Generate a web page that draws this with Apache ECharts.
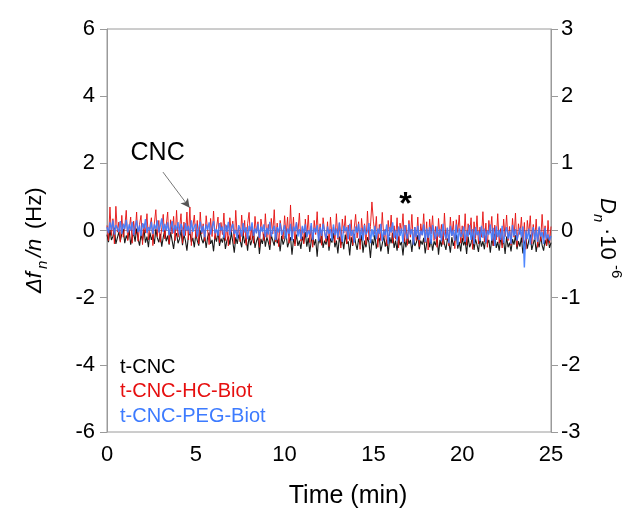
<!DOCTYPE html>
<html>
<head>
<meta charset="utf-8">
<script src="https://cdn.jsdelivr.net/npm/echarts@6/dist/echarts.min.js"></script>
<style>html,body{margin:0;padding:0;background:#fff}#c{width:638px;height:516px}</style>
</head>
<body>
<div id="c"></div>
<script>
const seriesNames = ['t-CNC', 't-CNC-HC-Biot', 't-CNC-PEG-Biot'];
const xTicks = [0, 5, 10, 15, 20, 25];
const leftTicks = [-6, -4, -2, 0, 2, 4, 6];
const rightTicks = [-3, -2, -1, 0, 1, 2, 3];
const timeStep = 1 / 12; // min between samples

const tCNC = [
-0.12,-0.35,0.02,-0.28,-0.18,0.08,-0.4,-0.22,-0.05,-0.32,-0.1,0.05,-0.38,-0.15,-0.27,
0.0,-0.42,-0.2,-0.08,-0.33,0.06,-0.25,-0.45,-0.12,-0.3,0.03,-0.36,-0.18,-0.5,-0.06,
-0.28,-0.14,-0.4,0.04,-0.22,-0.35,-0.1,-0.48,-0.2,0.0,-0.32,-0.15,-0.42,-0.05,-0.3,
-0.55,-0.18,-0.08,-0.38,-0.25,0.02,-0.44,-0.12,-0.3,-0.6,-0.16,-0.04,-0.35,-0.22,-0.5,
-0.1,-0.3,-0.45,0.0,-0.26,-0.38,-0.14,-0.52,-0.2,-0.06,-0.4,-0.28,-0.62,-0.15,-0.33,
-0.02,-0.46,-0.24,-0.36,-0.1,-0.55,-0.3,-0.18,-0.42,-0.05,-0.34,-0.66,-0.2,-0.4,-0.12,
-0.3,-0.5,-0.08,-0.38,-0.22,-0.6,-0.15,-0.44,-0.28,-0.04,-0.52,-0.32,-0.18,-0.7,-0.25,
-0.4,-0.1,-0.48,-0.2,-0.35,-0.58,-0.14,-0.3,-0.45,-0.06,-0.38,-0.24,-0.62,-0.16,-0.42,
-0.28,-0.08,-0.5,-0.34,-0.2,-0.72,-0.26,-0.4,-0.12,-0.46,-0.3,-0.55,-0.18,-0.36,-0.05,
-0.48,-0.22,-0.64,-0.32,-0.14,-0.44,-0.26,-0.78,-0.2,-0.38,-0.1,-0.52,-0.3,-0.42,-0.16,
-0.6,-0.24,-0.36,-0.08,-0.5,-0.3,-0.68,-0.18,-0.44,-0.26,-0.56,-0.12,-0.4,-0.32,-0.74,
-0.2,-0.46,-0.1,-0.38,-0.58,-0.24,-0.42,-0.14,-0.66,-0.3,-0.5,-0.2,-0.36,-0.82,-0.26,
-0.44,-0.12,-0.54,-0.32,-0.22,-0.62,-0.4,-0.16,-0.48,-0.28,-0.7,-0.2,-0.38,-0.08,-0.52,
-0.3,-0.6,-0.18,-0.44,-0.34,-0.74,-0.24,-0.5,-0.12,-0.4,-0.28,-0.64,-0.2,-0.46,-0.36,
-0.14,-0.56,-0.3,-0.42,-0.22,-0.68,-0.38,-0.1,-0.5,-0.26,-0.6,-0.32,-0.44,-0.18,-0.72,
-0.28,-0.48,-0.16,-0.4,-0.58,-0.24,-0.36,-0.66,-0.2,-0.46,-0.3,-0.12,-0.54,-0.34,-0.62,
-0.22,-0.44,-0.3,-0.7,-0.18,-0.5,-0.38,-0.14,-0.58,-0.26,-0.42,-0.64,-0.2,-0.48,-0.32,
-0.56,-0.16,-0.4,-0.28,-0.66,-0.24,-0.46,-0.1,-0.52,-0.34,-0.6,-0.22,-0.44,-0.3,-0.7,
-0.18,-0.5,-0.36,-0.62,-0.26,-0.42,-0.14,-0.56,-0.32,-0.48,-0.2,-0.68,-0.38,-0.24,-0.54,
-0.3,-0.12,-0.58,-0.4,-0.22,-0.64,-0.34,-0.5,-0.16,-0.44,-0.6,-0.28,-0.46,-0.2,-0.52,
-0.36];

const tCNCHCBiot = [
0.15,-0.3,0.7,-0.15,0.35,-0.4,0.72,-0.05,0.25,-0.35,0.45,-0.2,0.1,0.6,-0.3,
0.05,0.4,-0.38,0.28,-0.12,0.55,-0.32,0.18,0.45,-0.42,0.2,-0.08,0.5,-0.28,0.12,
0.38,-0.45,0.22,0.62,-0.18,0.3,-0.35,0.08,0.48,-0.25,0.15,0.55,-0.4,0.32,-0.1,
0.42,-0.3,0.6,-0.2,0.05,0.5,-0.38,0.25,-0.15,0.55,-0.28,0.7,-0.45,0.12,0.46,
-0.22,0.3,-0.4,0.55,-0.1,0.2,-0.32,0.44,0.0,-0.42,0.36,-0.18,0.58,-0.26,0.1,
0.4,-0.36,0.24,-0.12,0.52,-0.3,0.15,-0.46,0.38,-0.05,0.28,-0.4,0.6,-0.2,0.08,
-0.34,0.46,-0.16,0.3,-0.44,0.2,0.54,-0.28,0.12,-0.38,0.42,-0.08,0.26,-0.5,0.34,
0.05,-0.3,0.5,-0.2,0.18,-0.42,0.36,-0.1,0.62,-0.34,0.22,-0.48,0.3,0.0,-0.26,
0.44,-0.14,0.4,-0.38,0.76,-0.28,0.4,-0.46,0.24,-0.06,0.52,-0.32,0.1,-0.4,0.34,
-0.2,0.46,-0.36,0.14,-0.5,0.3,-0.12,0.56,-0.3,0.2,-0.44,0.38,-0.02,-0.34,0.26,
-0.48,0.4,-0.18,0.1,-0.36,0.5,-0.26,0.22,-0.52,0.34,-0.08,0.44,-0.4,0.16,-0.3,
0.32,-0.44,0.06,0.48,-0.22,0.26,-0.56,0.36,-0.14,0.2,-0.42,0.58,-0.28,0.12,0.85,
0.28,-0.1,0.42,-0.5,0.18,-0.3,0.54,-0.2,0.04,-0.46,0.3,-0.16,0.46,-0.38,0.14,
-0.26,0.38,-0.52,0.22,-0.06,0.5,-0.34,0.16,-0.44,0.3,-0.2,0.48,-0.4,0.1,-0.3,
0.4,-0.48,0.2,-0.14,0.5,-0.36,0.26,-0.58,0.34,-0.1,0.44,-0.3,0.12,-0.5,0.36,
-0.22,0.18,-0.42,0.52,-0.28,0.08,-0.46,0.4,-0.16,0.28,-0.54,0.32,-0.06,0.46,-0.38,
0.14,-0.3,0.5,-0.44,0.2,-0.12,0.38,-0.56,0.26,-0.24,0.44,-0.4,0.1,-0.2,0.56,
-0.34,0.22,-0.5,0.3,-0.08,0.42,-0.46,0.16,-0.28,0.5,-0.38,0.06,-0.52,0.34,-0.18,
0.46,-0.3,0.12,-0.44,0.36,-0.2,0.52,-0.48,0.2,-0.12,0.4,-0.36,0.24,-0.56,0.3,
-0.1,0.44,-0.4,0.18,-0.26,0.34,-0.5,0.08,-0.32,0.48,-0.22,0.14,-0.46,0.3,-0.38,
0.12];

const tCNCPEGBiot = [
0.1,-0.08,0.24,0.02,0.3,-0.12,0.16,0.06,-0.04,0.28,-0.1,0.2,0.04,0.32,-0.06,
0.18,0.0,0.26,-0.14,0.12,0.3,-0.05,0.15,-0.16,0.22,0.06,0.34,-0.08,0.1,0.0,
0.26,-0.1,0.18,0.04,0.3,-0.06,0.14,0.36,-0.04,0.2,0.0,0.24,-0.14,0.1,0.28,
-0.08,0.16,0.02,0.25,-0.12,0.2,0.06,-0.16,0.22,0.0,0.14,-0.1,0.3,-0.04,0.12,
0.2,-0.18,0.08,0.26,-0.06,0.14,-0.2,0.18,0.02,0.24,-0.12,0.1,0.28,-0.08,0.04,
-0.16,0.22,0.0,0.12,-0.22,0.18,-0.04,0.26,-0.14,0.08,0.2,-0.1,0.02,-0.24,0.16,
0.04,-0.18,0.22,-0.06,0.1,-0.26,0.14,0.0,0.24,-0.16,0.06,-0.08,0.2,-0.22,0.12,
-0.04,0.18,-0.2,0.08,-0.12,0.26,-0.18,0.02,0.14,-0.28,0.1,-0.06,0.22,-0.14,0.0,
0.16,-0.24,0.06,-0.1,0.2,-0.3,0.12,-0.02,0.24,-0.18,0.04,-0.26,0.14,-0.08,0.18,
-0.2,0.0,-0.12,0.22,-0.28,0.08,-0.06,0.16,-0.32,0.1,-0.16,0.2,-0.04,-0.24,0.12,
-0.1,0.04,-0.3,0.18,-0.14,0.06,-0.22,0.24,-0.08,-0.34,0.14,-0.02,0.1,-0.26,0.2,
-0.16,0.02,-0.36,0.12,-0.06,0.2,-0.24,0.08,-0.3,0.16,-0.12,-0.02,0.22,-0.38,0.04,
-0.18,0.14,-0.26,0.06,-0.1,0.2,-0.32,0.0,-0.14,0.18,-0.4,0.1,-0.06,0.24,-0.22,
0.02,-0.3,0.12,-0.16,0.06,-0.36,0.16,-0.08,-0.24,0.2,-0.12,0.04,-0.42,0.1,-0.2,
0.14,-0.28,0.0,-0.14,0.18,-0.34,0.06,-0.22,0.1,-0.4,0.16,-0.06,-0.26,0.12,-0.18,
0.04,-0.32,0.2,-0.1,-0.24,0.08,-0.38,0.14,-0.16,0.02,-0.3,0.18,-0.44,0.06,-0.2,
-0.08,0.12,-0.34,0.0,-0.18,0.16,-0.28,0.04,-0.4,0.1,-0.14,-0.02,-0.32,0.14,-0.22,
0.06,-0.36,0.0,-0.12,0.18,-0.3,0.08,-0.46,0.12,-0.2,0.02,-0.28,0.14,-0.38,-0.06,
0.1,-0.24,-0.02,-0.4,0.16,-0.16,0.04,-0.3,-0.3,0.08,-0.2,0.12,-1.1,0.0,-0.26,
0.06,-0.42,-0.1,0.1,-0.28,0.02,-0.34,0.12,-0.18,-0.04,-0.4,0.08,-0.24,-0.12,-0.3,
-0.16];

const colors = ['#000000', '#e60f0f', '#3d7bff'];
const lineWidths = [1.1, 1.0, 1.4];
const annotCNC = {label: 'CNC', at: [2.85, 2.3], arrowFrom: [3.15, 1.74], arrowTo: [4.65, 0.68]};
const annotStar = {label: '*', at: [16.8, 0.76]};

function pairs(vals) { return vals.map((v, i) => [i * timeStep, v]); }

const FONT = 'Arial, "Liberation Sans", sans-serif';
const chart = echarts.init(document.getElementById('c'), null, {renderer: 'canvas'});

const lineSeries = [tCNC, tCNCHCBiot, tCNCPEGBiot].map((vals, k) => ({
  name: seriesNames[k], type: 'line', data: pairs(vals), showSymbol: false, symbol: 'none',
  xAxisIndex: 0, yAxisIndex: 0, z: 2 + k,
  lineStyle: {width: lineWidths[k], color: colors[k], opacity: 0.9}, itemStyle: {color: colors[k]},
  sampling: null, animation: false
}));

lineSeries.push({
  name: 'annot', type: 'line', data: [], xAxisIndex: 0, yAxisIndex: 0, silent: true, z: 10,
  markLine: {
    silent: true, symbol: ['none', 'arrow'], symbolSize: [7, 9], label: {show: false},
    lineStyle: {color: '#555', width: 0.8, type: 'solid'},
    data: [[{coord: annotCNC.arrowFrom}, {coord: annotCNC.arrowTo}]]
  },
  markPoint: {
    silent: true, symbol: 'circle', symbolSize: 0,
    data: [
      {coord: annotCNC.at, label: {show: true, formatter: annotCNC.label, color: '#000', fontSize: 25, fontFamily: FONT, position: 'inside'}},
      {coord: annotStar.at, label: {show: true, formatter: annotStar.label, color: '#000', fontSize: 32, fontWeight: 'bold', fontFamily: FONT, position: 'inside'}}
    ]
  }
});

const axisGray = '#9a9a9a';
chart.setOption({
  animation: false,
  backgroundColor: '#fff',
  grid: {left: 107, right: 87, top: 29, bottom: 84, show: true, borderColor: axisGray, borderWidth: 1},
  legend: {
    orient: 'vertical', left: 110, top: 352, itemWidth: 0, itemHeight: 20, itemGap: 4.5,
    icon: 'rect', selectedMode: false,
    data: seriesNames.map((n, k) => ({name: n, textStyle: {color: colors[k]}})),
    textStyle: {fontSize: 20, fontFamily: FONT}
  },
  xAxis: {
    type: 'value', min: xTicks[0], max: xTicks[xTicks.length - 1], interval: 5,
    name: 'Time (min)', nameLocation: 'middle', nameGap: 52,
    nameTextStyle: {fontSize: 25, fontFamily: FONT, color: '#000', padding: [0, 0, 0, 38]},
    axisLine: {show: true, lineStyle: {color: axisGray}},
    axisTick: {show: true, inside: false, length: 7, lineStyle: {color: axisGray}},
    axisLabel: {fontSize: 22, fontFamily: FONT, color: '#000', margin: 12},
    splitLine: {show: false}
  },
  yAxis: [{
    type: 'value', min: leftTicks[0], max: leftTicks[leftTicks.length - 1], interval: 2, position: 'left',
    axisLine: {show: true, onZero: false, lineStyle: {color: axisGray}},
    axisTick: {show: true, inside: false, length: 7, lineStyle: {color: axisGray}},
    axisLabel: {fontSize: 22, fontFamily: FONT, color: '#000', margin: 12},
    splitLine: {show: false}
  }, {
    type: 'value', min: rightTicks[0], max: rightTicks[rightTicks.length - 1], interval: 1, position: 'right',
    axisLine: {show: true, onZero: false, lineStyle: {color: axisGray}},
    axisTick: {show: true, inside: false, length: 7, lineStyle: {color: axisGray}},
    axisLabel: {fontSize: 22, fontFamily: FONT, color: '#000', margin: 10},
    splitLine: {show: false}
  }],
  series: lineSeries,
  graphic: [
    {
      type: 'group', x: 35, y: 293, rotation: Math.PI / 2, silent: true,
      children: [
        {type: 'text', x: 0, y: 0, style: {text: 'Δf', font: 'italic 22px ' + FONT, fill: '#000', verticalAlign: 'middle'}},
        {type: 'text', x: 24, y: 8, style: {text: 'n', font: 'italic 15px ' + FONT, fill: '#000', verticalAlign: 'middle'}},
        {type: 'text', x: 36, y: 0, style: {text: '/n', font: 'italic 22px ' + FONT, fill: '#000', verticalAlign: 'middle'}},
        {type: 'text', x: 64, y: 0, style: {text: '(Hz)', font: '22px ' + FONT, fill: '#000', verticalAlign: 'middle'}}
      ]
    },
    {
      type: 'group', x: 607, y: 198, rotation: -Math.PI / 2, silent: true,
      children: [
        {type: 'text', x: 0, y: 0, style: {text: 'D', font: 'italic 22px ' + FONT, fill: '#000', verticalAlign: 'middle'}},
        {type: 'text', x: 16, y: 9, style: {text: 'n', font: 'italic 15px ' + FONT, fill: '#000', verticalAlign: 'middle'}},
        {type: 'text', x: 30, y: 0, style: {text: '·10', font: '22px ' + FONT, fill: '#000', verticalAlign: 'middle'}},
        {type: 'text', x: 67, y: -9, style: {text: '-6', font: '15px ' + FONT, fill: '#000', verticalAlign: 'middle'}}
      ]
    }
  ]
});
</script>
</body>
</html>
